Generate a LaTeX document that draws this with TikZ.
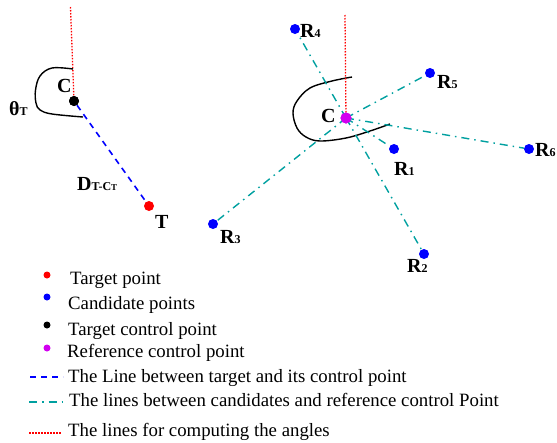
\documentclass[tikz,border=0pt]{standalone}
\usepackage{fontspec}
\setmainfont{Liberation Serif}
\definecolor{tealc}{RGB}{0,160,160}
\definecolor{magc}{RGB}{210,0,240}
\newcommand{\smallsub}[1]{{\fontsize{12}{12}\selectfont #1}}
\begin{document}
\begin{tikzpicture}[x=1pt,y=-1pt,
  dot/.style={circle,inner sep=0pt,minimum size=10pt,fill=#1},
  ldot/.style={circle,inner sep=0pt,minimum size=7pt,fill=#1},
  lbl/.style={anchor=base west,inner sep=0pt,font=\fontsize{20}{22}\selectfont\bfseries},
  legtext/.style={anchor=base west,inner sep=0pt,font=\fontsize{18.8}{20}\selectfont},
  tline/.style={blue,line width=1.6pt,dash pattern=on 6pt off 5pt},
  cline/.style={tealc,line width=1.4pt,dash pattern=on 8pt off 5pt on 1.5pt off 5pt},
  aline/.style={red,line width=1.3pt,dash pattern=on 1.5pt off 1.5pt},
  arcl/.style={black,line width=1.4pt}]
\useasboundingbox (0,0) rectangle (557,442);
% ---------- left part ----------
\node[dot=black] (CT) at (74,101) {};
\node[dot=red] (T) at (149,206) {};
\coordinate (topL) at (70.5,7);
\draw[aline] (topL) -- (CT.center);
\draw[arcl] plot[smooth,tension=0.6] coordinates {(73,69) (52,68) (40,76) (35.5,90) (36,103) (40,110) (52,114) (83,117)};
\draw[tline] (CT) -- (T);
\node[dot=black] at (CT) {};
\node[lbl] (lC) at (57,92) {C};
\node[lbl] (lT) at (155,228) {T};
\node[lbl] (lth) at (9,115) {θ\smallsub{T}};
\node[lbl] (lD) at (77,190) {D\smallsub{T-C{\fontsize{9}{9}\selectfont T}}};
% ---------- right part ----------
\node[dot=magc,minimum size=11pt] (CR) at (346,118) {};
\coordinate (topR) at (345,15);
\draw[arcl] plot[smooth,tension=0.6] coordinates {(352,77) (332,81) (310,88) (297,101) (293,113) (297,128) (306,137) (320,141) (346,138) (370,131) (390,124)};
\node[dot=blue] (R1) at (394,149) {};
\node[dot=blue] (R2) at (424,254) {};
\node[dot=blue] (R3) at (213,224) {};
\node[dot=blue] (R4) at (295,29) {};
\node[dot=blue] (R5) at (430,73) {};
\node[dot=blue] (R6) at (529,149) {};
\foreach \r in {R1,R2,R3,R4,R5,R6} \draw[cline] (CR.center) -- (\r);
\draw[aline] (topR) -- (CR.center);
\node[dot=magc,minimum size=11pt] at (CR) {};
\node[lbl] (lCR) at (321,122) {C};
\node[lbl] (lR1) at (394,175) {R\smallsub{1}};
\node[lbl] (lR2) at (407,272) {R\smallsub{2}};
\node[lbl] (lR3) at (220,243) {R\smallsub{3}};
\node[lbl] (lR4) at (300,37) {R\smallsub{4}};
\node[lbl] (lR5) at (437,88) {R\smallsub{5}};
\node[lbl] (lR6) at (535,156) {R\smallsub{6}};
% ---------- legend ----------
\node[ldot=red] (g1) at (47,275) {};
\node[ldot=blue] (g2) at (47,297) {};
\node[ldot=black] (g3) at (47,325) {};
\node[ldot=magc] (g4) at (47,348) {};
\node[legtext] (t1) at (70,284) {Target point};
\node[legtext] (t2) at (68,309) {Candidate points};
\node[legtext] (t3) at (68,335) {Target control point};
\node[legtext] (t4) at (67,357) {Reference control point};
\coordinate (a1) at (30,377); \coordinate (b1) at (63,377);
\coordinate (a2) at (29,402); \coordinate (b2) at (63,402);
\coordinate (a3) at (29,433); \coordinate (b3) at (62,433);
\draw[tline,line width=1.8pt] (a1) -- (b1);
\draw[cline,line width=1.6pt] (a2) -- (b2);
\draw[aline] (a3) -- (b3);
\node[legtext] (t5) at (68,382) {The Line between target and its control point};
\node[legtext] (t6) at (69,406) {The lines between candidates and reference control Point};
\node[legtext] (t7) at (68,436) {The lines for computing the angles};
\end{tikzpicture}
\end{document}
